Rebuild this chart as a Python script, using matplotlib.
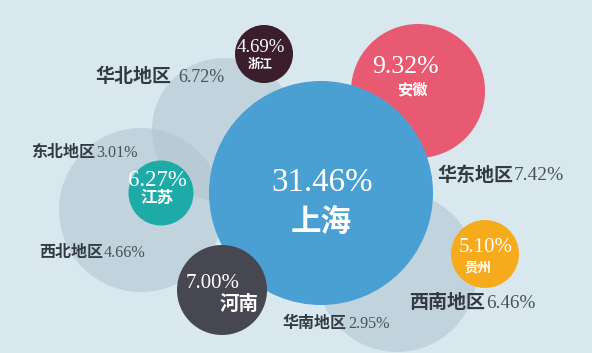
import matplotlib.pyplot as plt
from matplotlib.patches import Circle

## Data ##
provinces = ["上海", "安徽", "河南", "贵州", "江苏", "浙江"]
prov_share = [31.46, 9.32, 7.00, 5.10, 6.27, 4.69]
regions = ["华北地区", "东北地区", "西北地区", "华东地区", "西南地区", "华南地区"]
region_share = [6.72, 3.01, 4.66, 7.42, 6.46, 2.95]

## Layout (pixel space) ##
prov_xy = [(321, 193), (418, 91), (222, 290), (485, 254), (161, 193), (264, 54)]
prov_r = [112, 67, 45, 34, 32.5, 29]
prov_col = ["#4a9fd3", "#e85a72", "#474751", "#f6ab1d", "#1eaaa7", "#3b1e2b"]
prov_z = [3, 2, 4, 4, 4, 4]
prov_fs = [(23.8, 22), (18.5, 11), (15, 14), (15, 9.7), (16.5, 12), (13.5, 9)]
# text centres (number, chinese)
prov_txt = [((322, 183), (321, 222)), ((405, 67), (412, 89)), ((213, 284), (239, 304)),
            ((486, 247), (478, 268)), ((157, 180), (157, 198)), ((261, 47), (260, 64))]

gray_xy = [(224, 130), (141, 210), (397, 272)]
gray_r = [72, 82, 80]

# label anchor: x where Chinese ends, gap to number, y
region_xy = [(171, 77), (95, 152), (103, 252), (513, 175), (485, 302), (347, 323)]
region_gap = [7, 1, 1, 1, 1, 1]
region_fs = [(13.7, 13), (11.5, 11.6), (11.5, 11.6), (13.7, 14), (13.7, 13.8), (11.5, 11.6)]

bg = "#d9e8ef"
fig = plt.figure(figsize=(5.92, 3.53), dpi=100)
fig.patch.set_facecolor(bg)
ax = fig.add_axes([0, 0, 1, 1])
ax.set_xlim(0, 592)
ax.set_ylim(353, 0)
ax.set_aspect("equal")
ax.axis("off")

# gray region bubbles
for (x, y), r in zip(gray_xy, gray_r):
    ax.add_patch(Circle((x, y), r, facecolor="#b2c6d1", alpha=0.6, lw=0, zorder=1))

# province bubbles
for i, name in enumerate(provinces):
    ax.add_patch(Circle(prov_xy[i], prov_r[i], facecolor=prov_col[i], lw=0, zorder=prov_z[i]))
    fs1, fs2 = prov_fs[i]
    (x1, y1), (x2, y2) = prov_txt[i]
    ax.text(x1, y1, f"{prov_share[i]:.2f}%", color="white", fontsize=fs1,
            family="Liberation Serif", ha="center", va="center", zorder=6)
    ax.text(x2, y2, name, color="white", fontsize=fs2, fontweight="bold",
            family="Noto Sans CJK SC", ha="center", va="center", zorder=6)

# region labels
for i, name in enumerate(regions):
    x, y = region_xy[i]
    fs1, fs2 = region_fs[i]
    ax.text(x, y, name, color="#333a44", fontsize=fs1, fontweight="bold",
            family="Noto Sans CJK SC", ha="right", va="center", zorder=7)
    ax.text(x + region_gap[i], y + 1, f"{region_share[i]:.2f}%", color="#4a515a",
            fontsize=fs2, family="Liberation Serif", ha="left", va="center", zorder=7)

plt.savefig("out.png", dpi=100, facecolor=bg)
